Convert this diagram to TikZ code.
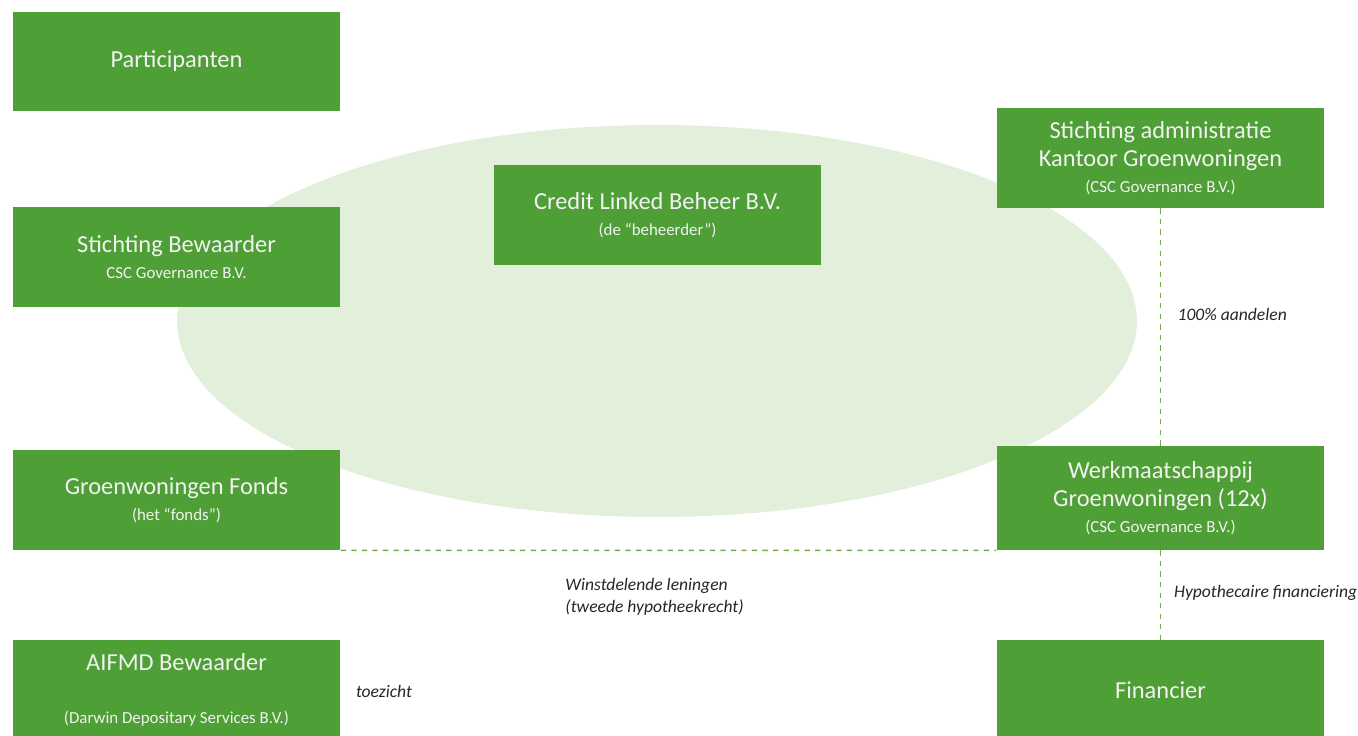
\documentclass[tikz,border=0pt]{standalone}
\usepackage{fontspec}
\setmainfont{Carlito}
\definecolor{boxgreen}{HTML}{4E9F35}
\definecolor{ovalgreen}{HTML}{E2EFDA}
\definecolor{linegreen}{HTML}{70AD47}
\newcommand{\subline}[1]{{\fontsize{9.6}{12}\selectfont #1}}
\tikzset{
  entity/.style={fill=boxgreen, text=white!95!black, minimum width=6.56cm,
    minimum height=2cm, inner sep=0pt, align=center,
    font=\fontsize{13.9}{15.9}\selectfont},
  link/.style={linegreen, dashed, thick},
  note/.style={font=\fontsize{10}{12.5}\selectfont\itshape, text=black!85, align=left}
}
\begin{document}
\begin{tikzpicture}[x=0.02cm, y=-0.02cm]
\useasboundingbox (0,0) rectangle (1358,736);
\fill[ovalgreen] (657,321) ellipse [x radius=9.6cm, y radius=3.92cm];
\node[entity, minimum height=1.98cm] (P_0_0) at (176.5,61.5) {Participanten};
\node[entity] (P_0_1) at (176.5,257) {Stichting Bewaarder\\[-1pt]\subline{CSC Governance B.V.}};
\node[entity] (P_0_2) at (176.5,500) {Groenwoningen Fonds\\[-1pt]\subline{(het “fonds”)}};
\node[entity] (P_0_3) at (176.5,690) {AIFMD Bewaarder\\[14pt]\subline{(Darwin Depositary Services B.V.)}};
\node[entity] (P_1_0) at (657.5,215) {Credit Linked Beheer B.V.\\[-1pt]\subline{(de “beheerder”)}};
\node[entity] (P_2_0) at (1160.5,158) {Stichting administratie\\Kantoor Groenwoningen\\[-1pt]\subline{(CSC Governance B.V.)}};
\node[entity, minimum height=2.08cm] (P_2_1) at (1160.5,498) {Werkmaatschappij\\Groenwoningen (12x)\\[-1pt]\subline{(CSC Governance B.V.)}};
\node[entity] (P_2_2) at (1160.5,690) {Financier};
\draw[link] (P_0_2.south east) -- (P_2_1.south west)
  node[note, midway, below=12pt, xshift=-0.28cm] {Winstdelende leningen\\(tweede hypotheekrecht)};
\draw[link] (P_2_0.south) -- (P_2_1.north) node[note, midway, right=6pt, yshift=7pt] {100\% aandelen};
\draw[link] (P_2_1.south) -- (P_2_2.north) node[note, midway, right=4pt, yshift=1pt] {Hypothecaire financiering};
\node[note] (P_0_4) at (384,691) {toezicht};
\end{tikzpicture}
\end{document}
